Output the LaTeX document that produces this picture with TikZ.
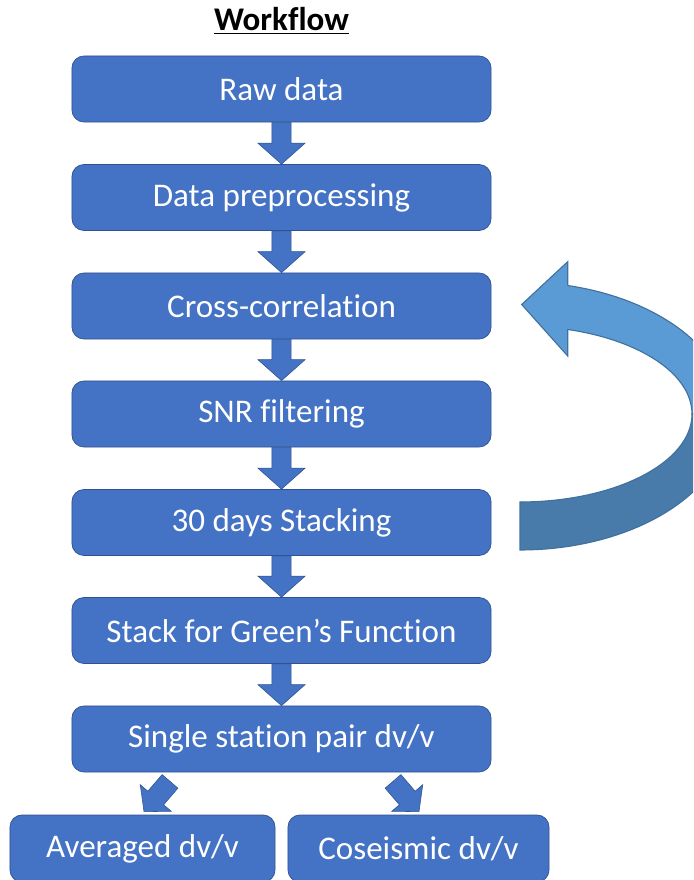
\documentclass[tikz,border=0pt]{standalone}
\usepackage{fontspec}
\setmainfont{Carlito}[Ligatures={NoCommon,NoRare,NoContextual}]
\usetikzlibrary{calc}

\definecolor{boxblue}{HTML}{4472C4}
\definecolor{boxedge}{HTML}{2F528F}
\definecolor{loopblue}{HTML}{5B9BD5}
\definecolor{loopdark}{HTML}{487AAA}
\definecolor{loopedge}{HTML}{41719C}

% fat block arrow: #1 head length, #2 half head width, #3 half shaft width, #4 tail, #5 tip
\newcommand{\blockarrow}[5]{%
  \coordinate (ba-h) at ($(#5)!#1!(#4)$);
  \draw[blockarrow] ($(#4)!#3!90:(#5)$) -- ($(ba-h)!#3!90:(#5)$) -- ($(ba-h)!#2!90:(#5)$)
    -- (#5) -- ($(ba-h)!#2!-90:(#5)$) -- ($(ba-h)!#3!-90:(#5)$) -- ($(#4)!#3!-90:(#5)$) -- cycle;}

\begin{document}
\begin{tikzpicture}[
    x=0.025cm, y=-0.025cm,
    flowbox/.style={rectangle, rounded corners=0.3cm, draw=boxedge, line width=0.5pt, fill=boxblue,
        text=white, minimum width=10.475cm, minimum height=1.65cm, font=\fontsize{23.5}{28}\selectfont},
    blockarrow/.style={fill=boxblue, draw=boxedge, line width=0.4pt, line join=miter},
    loopline/.style={draw=loopedge, line width=0.8pt, line join=miter}
]
\useasboundingbox (0,0) rectangle (693,880);
\clip (0,0) rectangle (693,880);

% Title
\node[anchor=base, font=\fontsize{23.5}{28}\selectfont\bfseries] (title) at (281.5,31) {\underline{Workflow}};

% ===== MAIN CHAIN =====
\node[flowbox] (raw) at (281.5,89) {Raw data};
\node[flowbox] (prep) at (281.5,197.5) {Data preprocessing};
\node[flowbox] (xcorr) at (281.5,306) {Cross-correlation};
\node[flowbox] (snr) at (281.5,414) {SNR filtering};
\node[flowbox] (stack30) at (281.5,522.5) {30 days Stacking};
\node[flowbox] (green) at (281.5,630.5) {Stack for Green’s Function};
\node[flowbox] (single) at (281.5,739) {Single station pair dv/v};

% ===== RESULTS =====
\node[flowbox, minimum width=6.625cm, minimum height=1.675cm] (avg) at (142.5,848.5) {Averaged dv/v};
\node[flowbox, minimum width=6.525cm, minimum height=1.675cm] (cos) at (418.5,848.5) {Coseismic dv/v};

% ===== DOWN ARROWS =====
\blockarrow{0.525cm}{0.59cm}{0.24cm}{raw.south}{prep.north}
\blockarrow{0.525cm}{0.59cm}{0.24cm}{prep.south}{xcorr.north}
\blockarrow{0.525cm}{0.59cm}{0.24cm}{xcorr.south}{snr.north}
\blockarrow{0.525cm}{0.59cm}{0.24cm}{snr.south}{stack30.north}
\blockarrow{0.525cm}{0.59cm}{0.24cm}{stack30.south}{green.north}
\blockarrow{0.525cm}{0.59cm}{0.24cm}{green.south}{single.north}

% split into the two results
\coordinate (avgtail) at ($(single.south)+(-111.5,9)$);
\coordinate (avgtip) at ($(avg.north)+(1.5,-3)$);
\coordinate (costail) at ($(single.south)+(111.5,9)$);
\coordinate (costip) at ($(cos.north)+(0.5,-3)$);
\blockarrow{0.45cm}{0.51cm}{0.26cm}{avgtail}{avgtip}
\blockarrow{0.45cm}{0.51cm}{0.26cm}{costail}{costip}

% ===== LOOP BACK: stacking -> cross-correlation =====
% lower (back) half of the band
\path[loopline, fill=loopdark]
  plot[domain=0:90, samples=40, variable=\t] ({520+210*cos(\t)},{416+134*sin(\t)})
  -- plot[domain=90:0, samples=40, variable=\t] ({520+172*cos(\t)},{414+88*sin(\t)})
  -- cycle;
% upper half with the head
\path[loopline, fill=loopblue]
  (521.7,304.5) -- (567.7,261.7) -- (567.7,285.5)
  -- plot[domain=-76.9:0, samples=40, variable=\t] ({520+210*cos(\t)},{416+134*sin(\t)})
  -- plot[domain=0:-73.9, samples=40, variable=\t] ({520+172*cos(\t)},{414+88*sin(\t)})
  -- (567.7,356) -- cycle;

\end{tikzpicture}
\end{document}
